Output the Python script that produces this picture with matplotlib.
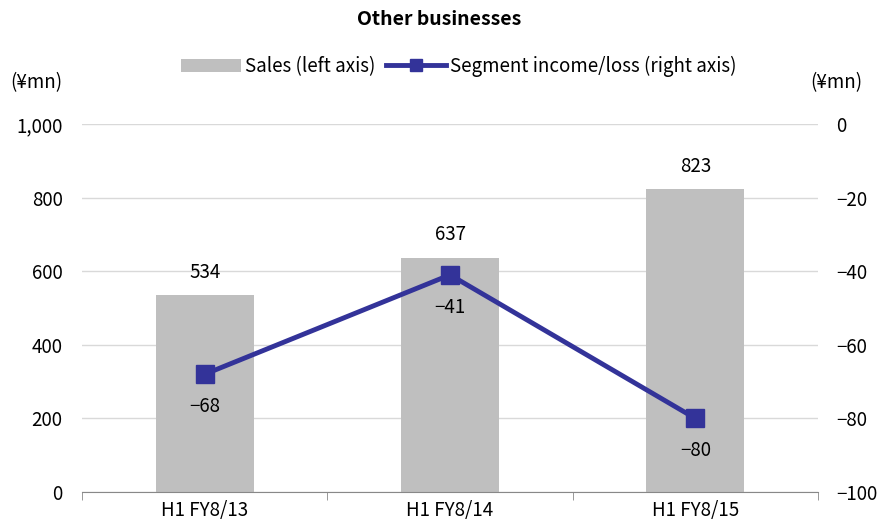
import matplotlib
matplotlib.use('Agg')
import matplotlib.pyplot as plt
from matplotlib.lines import Line2D
from matplotlib.patches import Patch
import numpy as np

plt.rcParams['font.family'] = ['Noto Sans CJK JP', 'DejaVu Sans']

categories = ['H1 FY8/13', 'H1 FY8/14', 'H1 FY8/15']
sales = [534, 637, 823]
income = [-68, -41, -80]

bar_color = '#BFBFBF'
line_color = '#333399'

fig = plt.figure(figsize=(8.79, 5.25), dpi=100)
ax = fig.add_axes([0.0933, 0.0629, 0.8373, 0.7009])
ax2 = ax.twinx()

x = np.arange(len(categories))
ax.bar(x, sales, width=0.4, color=bar_color, zorder=2)
ax.set_xlim(-0.5, len(categories) - 0.5)
ax.set_ylim(0, 1000)
ax.set_yticks(range(0, 1001, 200))
ax.set_yticklabels(['{:,}'.format(v) for v in range(0, 1001, 200)])
ax.grid(axis='y', color='#D9D9D9', linewidth=1, zorder=0)
ax.set_axisbelow(True)

ax.set_xticks(x)
ax.set_xticklabels(categories)
ax.set_xticks(np.arange(-0.5, len(categories), 1), minor=True)
ax.tick_params(axis='x', which='major', length=0, labelsize=13.5, pad=6)
ax.tick_params(axis='x', which='minor', length=6, color='#888888', direction='out')
ax.tick_params(axis='y', length=0, labelsize=13.5, pad=14)

for s in ['top', 'left', 'right']:
    ax.spines[s].set_visible(False)
    ax2.spines[s].set_visible(False)
ax.spines['bottom'].set_color('#888888')
ax2.spines['bottom'].set_visible(False)

ax2.plot(x, income, color=line_color, linewidth=3.5, marker='s', markersize=13, zorder=3)
ax2.set_ylim(-100, 0)
ax2.set_yticks(range(-100, 1, 20))
ax2.set_yticklabels([str(v).replace('-', '\u2212') for v in range(-100, 1, 20)])
ax2.tick_params(axis='y', length=0, labelsize=13.5, pad=13)

for xi, v in zip(x, sales):
    ax.text(xi, v + 33, str(v), ha='center', va='bottom', fontsize=13.5)
for xi, v in zip(x, income):
    ax2.text(xi, v - 6, str(v).replace('-', '\u2212'), ha='center', va='top', fontsize=13.5, zorder=4)

fig.text(0.5, 0.962, 'Other businesses', ha='center', va='center', fontsize=14, fontweight='bold')
fig.text(0.012, 0.842, '(\u00a5mn)', ha='left', va='center', fontsize=13.5)
fig.text(0.981, 0.842, '(\u00a5mn)', ha='right', va='center', fontsize=13.5)

handles = [Patch(facecolor=bar_color, edgecolor='none'),
           Line2D([0], [0], color=line_color, linewidth=3.5, marker='s', markersize=8)]
fig.legend(handles, ['Sales (left axis)', 'Segment income/loss (right axis)'],
           loc='center', bbox_to_anchor=(0.522, 0.874), ncol=2, frameon=False,
           fontsize=13.5, handlelength=3.2, handletextpad=0.2, columnspacing=0.6)

fig.savefig('out.png', dpi=100)
